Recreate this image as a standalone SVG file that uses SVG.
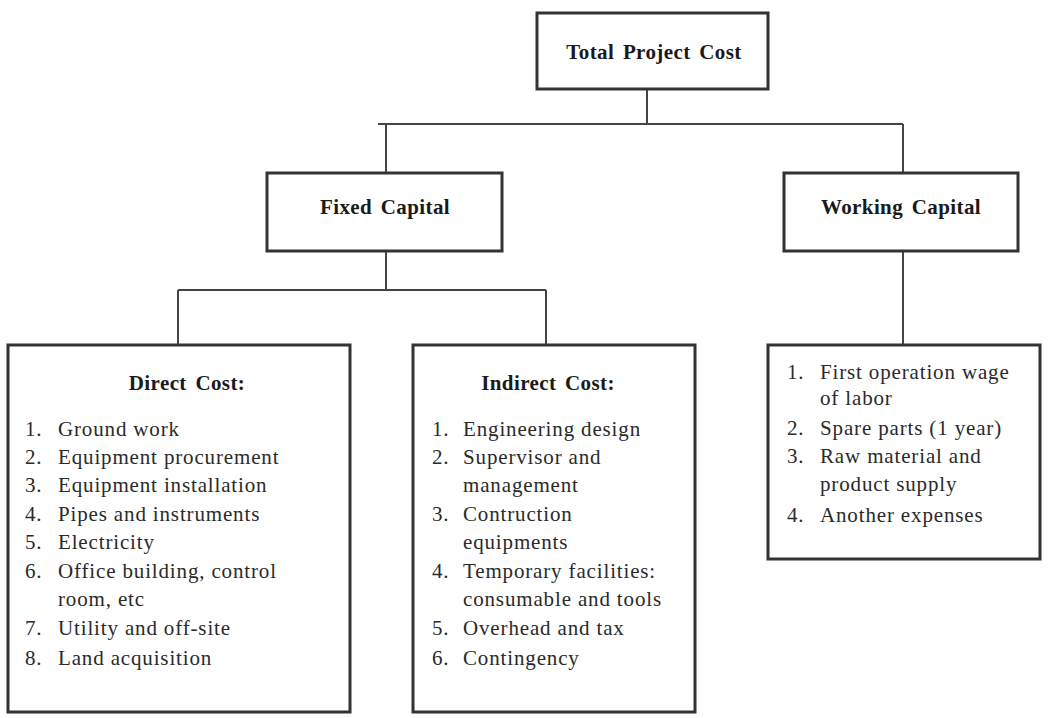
<svg xmlns="http://www.w3.org/2000/svg" width="1062" height="718" viewBox="0 0 1062 718">
<style>
.box{fill:#fff;stroke:#333;stroke-width:3}
.ln{fill:none;stroke:#444;stroke-width:2}
.h{font-family:"Liberation Serif","Times New Roman",serif;font-weight:bold;font-size:21px;fill:#1a1a1a;text-anchor:middle;letter-spacing:0.4px;word-spacing:3px}
.t{font-family:"Liberation Serif","Times New Roman",serif;font-size:21px;fill:#2a2a2a;letter-spacing:0.85px}
</style>
<rect width="1062" height="718" fill="#fff"/>
<g id="connectors">
<path class="ln" d="M647 89V124M378 124H903M386 124V173M903 124V173M386 251V290M178 290H546M178 290V345M546 290V345M903 251V345"/>
</g>
<g id="total">
<rect class="box" x="537" y="13" width="231" height="76"/>
<text class="h" x="654" y="59">Total Project Cost</text>
</g>
<g id="fixed">
<rect class="box" x="267" y="173" width="235" height="78"/>
<text class="h" x="385" y="214">Fixed  Capital</text>
</g>
<g id="working">
<rect class="box" x="784" y="173" width="234" height="78"/>
<text class="h" x="901" y="214">Working Capital</text>
</g>
<g id="direct">
<rect class="box" x="8" y="345" width="342" height="367"/>
<text class="h" x="187" y="390">Direct Cost:</text>
<g class="t">
<text x="25" y="436">1.</text><text x="58" y="436">Ground work</text>
<text x="25" y="464">2.</text><text x="58" y="464">Equipment procurement</text>
<text x="25" y="492">3.</text><text x="58" y="492">Equipment installation</text>
<text x="25" y="521">4.</text><text x="58" y="521">Pipes and instruments</text>
<text x="25" y="549">5.</text><text x="58" y="549">Electricity</text>
<text x="25" y="578">6.</text><text x="58" y="578">Office building, control</text>
<text x="58" y="606">room, etc</text>
<text x="25" y="635">7.</text><text x="58" y="635">Utility and off-site</text>
<text x="25" y="665">8.</text><text x="58" y="665">Land acquisition</text>
</g>
</g>
<g id="indirect">
<rect class="box" x="413" y="345" width="282" height="367"/>
<text class="h" x="548" y="390">Indirect Cost:</text>
<g class="t">
<text x="432" y="436">1.</text><text x="463" y="436">Engineering design</text>
<text x="432" y="464">2.</text><text x="463" y="464">Supervisor and</text>
<text x="463" y="492">management</text>
<text x="432" y="521">3.</text><text x="463" y="521">Contruction</text>
<text x="463" y="549">equipments</text>
<text x="432" y="578">4.</text><text x="463" y="578">Temporary facilities:</text>
<text x="463" y="606">consumable and tools</text>
<text x="432" y="635">5.</text><text x="463" y="635">Overhead and tax</text>
<text x="432" y="665">6.</text><text x="463" y="665">Contingency</text>
</g>
</g>
<g id="working-items">
<rect class="box" x="768" y="345" width="272" height="214"/>
<g class="t">
<text x="787" y="379">1.</text><text x="820" y="379">First operation wage</text>
<text x="820" y="405">of labor</text>
<text x="787" y="435">2.</text><text x="820" y="435">Spare parts (1 year)</text>
<text x="787" y="463">3.</text><text x="820" y="463">Raw material and</text>
<text x="820" y="491">product supply</text>
<text x="787" y="522">4.</text><text x="820" y="522">Another expenses</text>
</g>
</g>
</svg>
